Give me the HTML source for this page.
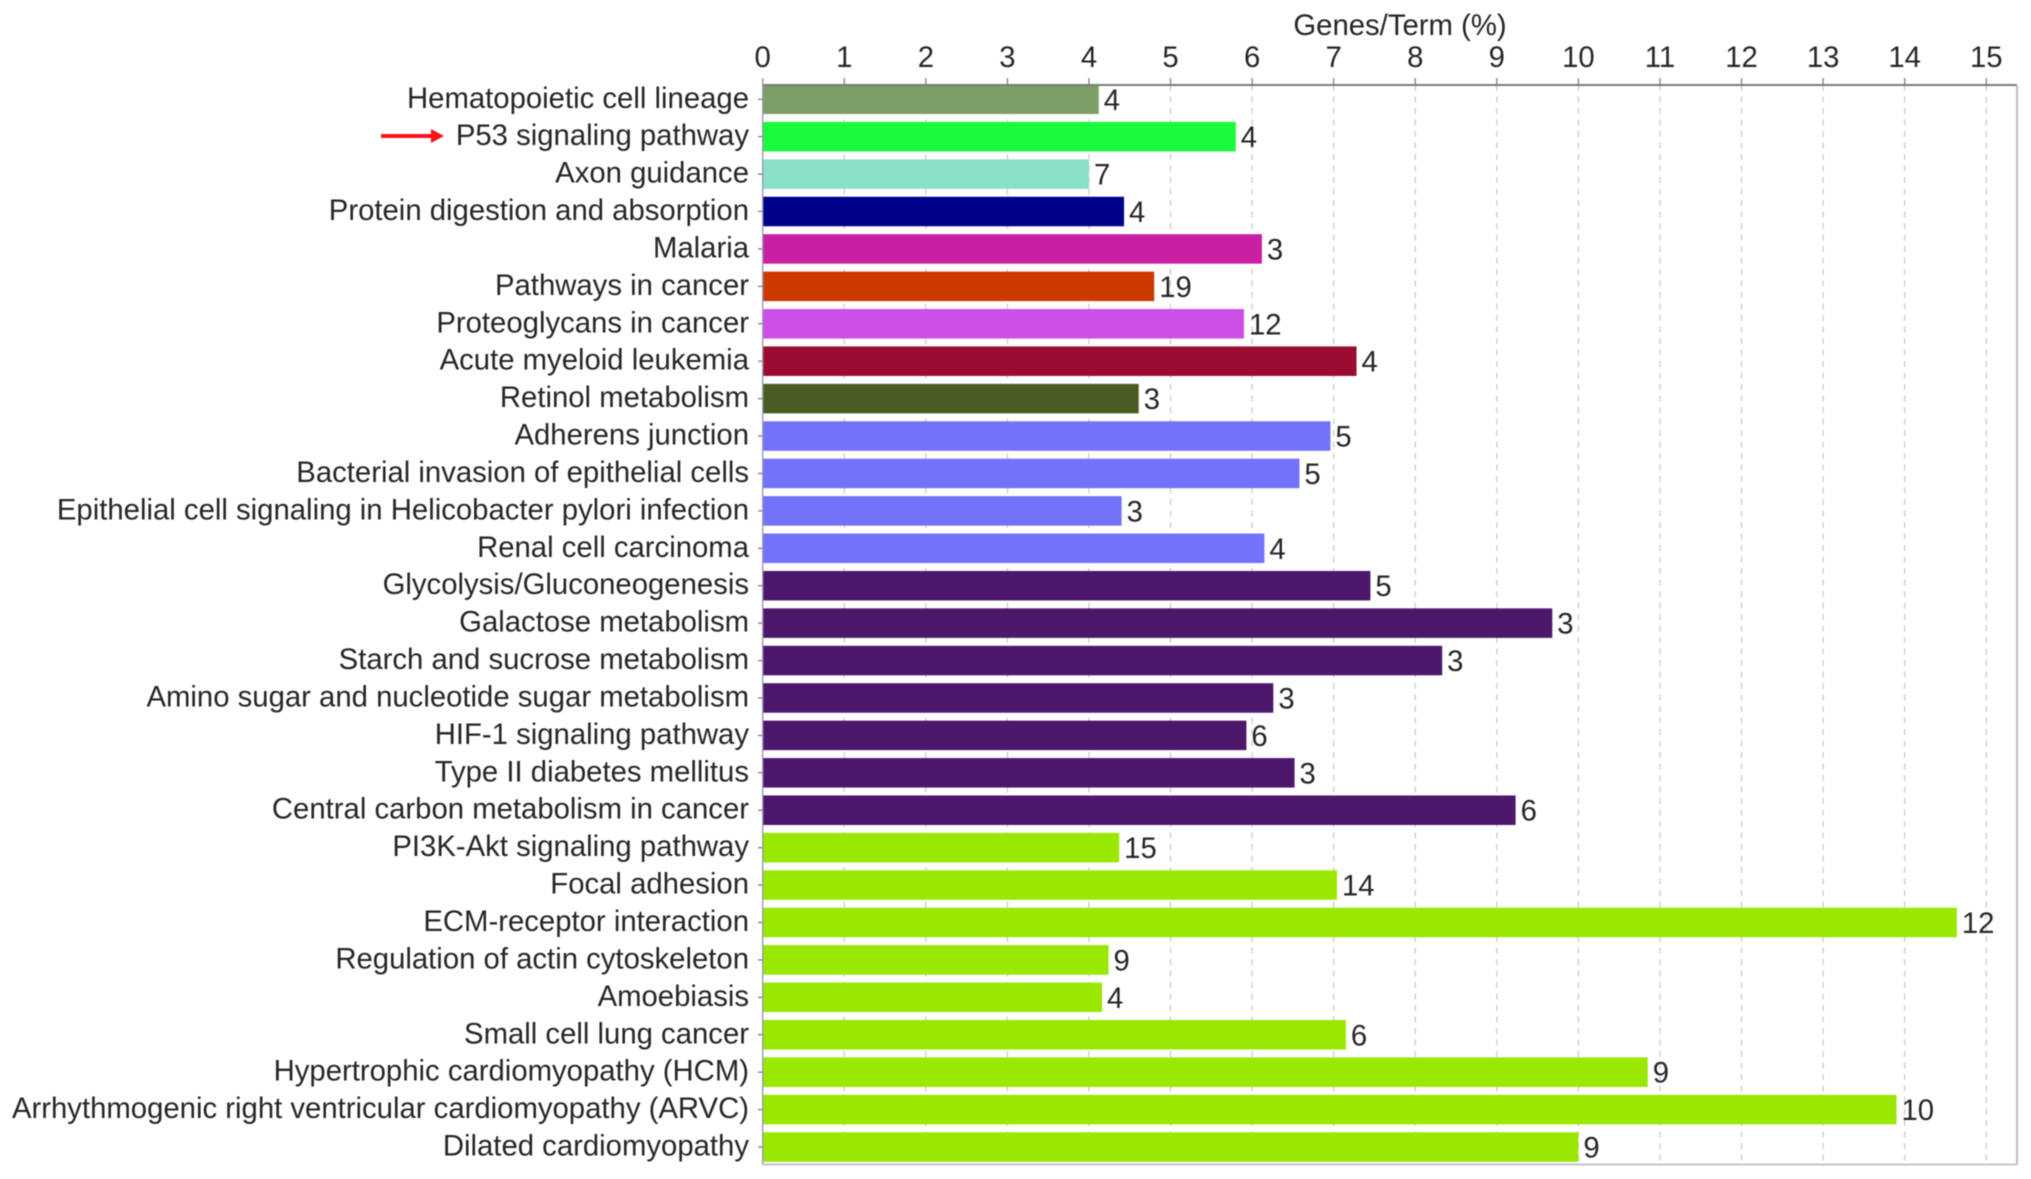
<!DOCTYPE html>
<html lang="en">
<head>
<meta charset="utf-8">
<title>Genes/Term (%) bar chart</title>
<style>
html,body{margin:0;padding:0;background:#fff;width:2031px;height:1179px;overflow:hidden}
svg{display:block;filter:blur(0.6px)}
text{font-family:"Liberation Sans",sans-serif;fill:#262626;font-size:29.3px}
</style>
</head>
<body>
<svg id="chart" xmlns="http://www.w3.org/2000/svg" width="2031" height="1179" viewBox="0 0 2031 1179">
  <text id="axis-title" x="1400" y="35" text-anchor="middle">Genes/Term (%)</text>
  <g id="grid"></g>
  <g id="bars"></g>
  <g id="axes"></g>
  <g id="labels"></g>
  <g id="values"></g>
  <g>
    <line x1="381" y1="136" x2="434" y2="136" stroke="#f4141a" stroke-width="4"></line>
    <polygon points="444,136 431,129 431,143" fill="#f4141a"></polygon>
  </g>
</svg>
<script>
const categories = ["Hematopoietic cell lineage","P53 signaling pathway","Axon guidance","Protein digestion and absorption","Malaria","Pathways in cancer","Proteoglycans in cancer","Acute myeloid leukemia","Retinol metabolism","Adherens junction","Bacterial invasion of epithelial cells","Epithelial cell signaling in Helicobacter pylori infection","Renal cell carcinoma","Glycolysis/Gluconeogenesis","Galactose metabolism","Starch and sucrose metabolism","Amino sugar and nucleotide sugar metabolism","HIF-1 signaling pathway","Type II diabetes mellitus","Central carbon metabolism in cancer","PI3K-Akt signaling pathway","Focal adhesion","ECM-receptor interaction","Regulation of actin cytoskeleton","Amoebiasis","Small cell lung cancer","Hypertrophic cardiomyopathy (HCM)","Arrhythmogenic right ventricular cardiomyopathy (ARVC)","Dilated cardiomyopathy"];
const genesPerTerm = [4.12,5.80,4.00,4.43,6.12,4.80,5.90,7.28,4.61,6.96,6.58,4.40,6.15,7.45,9.68,8.33,6.26,5.93,6.52,9.23,4.37,7.04,14.64,4.24,4.16,7.15,10.85,13.90,10.00];
const geneCounts = [4,4,7,4,3,19,12,4,3,5,5,3,4,5,3,3,3,6,3,6,15,14,12,9,4,6,9,10,9];
const xTickLabels = [0,1,2,3,4,5,6,7,8,9,10,11,12,13,14,15];
const colorKeys = ["sage","lime","aqua","navy","magenta","rust","orchid","crimson","olive","periwinkle","periwinkle","periwinkle","periwinkle","purple","purple","purple","purple","purple","purple","purple","yellowgreen","yellowgreen","yellowgreen","yellowgreen","yellowgreen","yellowgreen","yellowgreen","yellowgreen","yellowgreen"];

const palette = {sage:"#7c9f66",lime:"#1cf93c",aqua:"#8ae0c6",navy:"#00008a",magenta:"#c91fa2",rust:"#cc3a00",orchid:"#cc4fe8",crimson:"#9c0c32",olive:"#4a5c22",periwinkle:"#7272fb",purple:"#4d176b",yellowgreen:"#9ae800"};
const NS = "http://www.w3.org/2000/svg";
const plot = {left:762.7, right:2017, top:85, bottom:1164.5};
const xScale = v => plot.left + v * 81.57;
const bandY = i => 84.5 + i * 37.42;
const barHeight = 29.5;

function make(tag, attrs, parent, text) {
  const el = document.createElementNS(NS, tag);
  for (const k in attrs) el.setAttribute(k, attrs[k]);
  if (text !== undefined) el.textContent = text;
  parent.appendChild(el);
  return el;
}
const grid = document.getElementById("grid");
const axes = document.getElementById("axes");
const barsG = document.getElementById("bars");
const labelsG = document.getElementById("labels");
const valuesG = document.getElementById("values");

xTickLabels.forEach(t => {
  const x = xScale(t);
  if (t > 0) {
    const g = make("line", {x1:x, x2:x, y1:plot.top, y2:plot.bottom, stroke:"#d2d2d2", "stroke-width":1.5, "stroke-dasharray":"6 5.5"}, grid);
    
    
  }
  const tick = make("line", {x1:x, x2:x, y1:78, y2:plot.top, stroke:"#8a8a8a", "stroke-width":1.4}, axes);
  
  
  const lab = make("text", {x:x, y:67, "text-anchor":"middle"}, axes, String(t));
  
  
});

const topAxis = make("line", {x1:plot.left, x2:plot.right, y1:plot.top, y2:plot.top, stroke:"#7a7a7a", "stroke-width":2}, axes);


const rightEdge = make("line", {x1:plot.right, x2:plot.right, y1:plot.top, y2:plot.bottom, stroke:"#bdbdbd", "stroke-width":2}, axes);


const bottomEdge = make("line", {x1:plot.left, x2:plot.right, y1:plot.bottom, y2:plot.bottom, stroke:"#c4c4c4", "stroke-width":2}, axes);


const leftAxis = make("line", {x1:plot.left, x2:plot.left, y1:78, y2:plot.bottom, stroke:"#9a9ab4", "stroke-width":1.4}, axes);



categories.forEach((name, i) => {
  const y = bandY(i);
  const cy = y + barHeight / 2;
  const bar = make("rect", {x:plot.left, y:y, width:xScale(genesPerTerm[i]) - plot.left, height:barHeight, fill:palette[colorKeys[i]]}, barsG);
  
  
  const tick = make("line", {x1:758, x2:plot.left, y1:cy, y2:cy, stroke:"#8a8a8a", "stroke-width":1.4}, axes);
  
  
  const lab = make("text", {x:749, y:cy + 8.5, "text-anchor":"end"}, labelsG, name);
  
  
  const val = make("text", {x:xScale(genesPerTerm[i]) + 5, y:cy + 10.5}, valuesG, String(geneCounts[i]));
  
  
});
</script>
</body>
</html>
